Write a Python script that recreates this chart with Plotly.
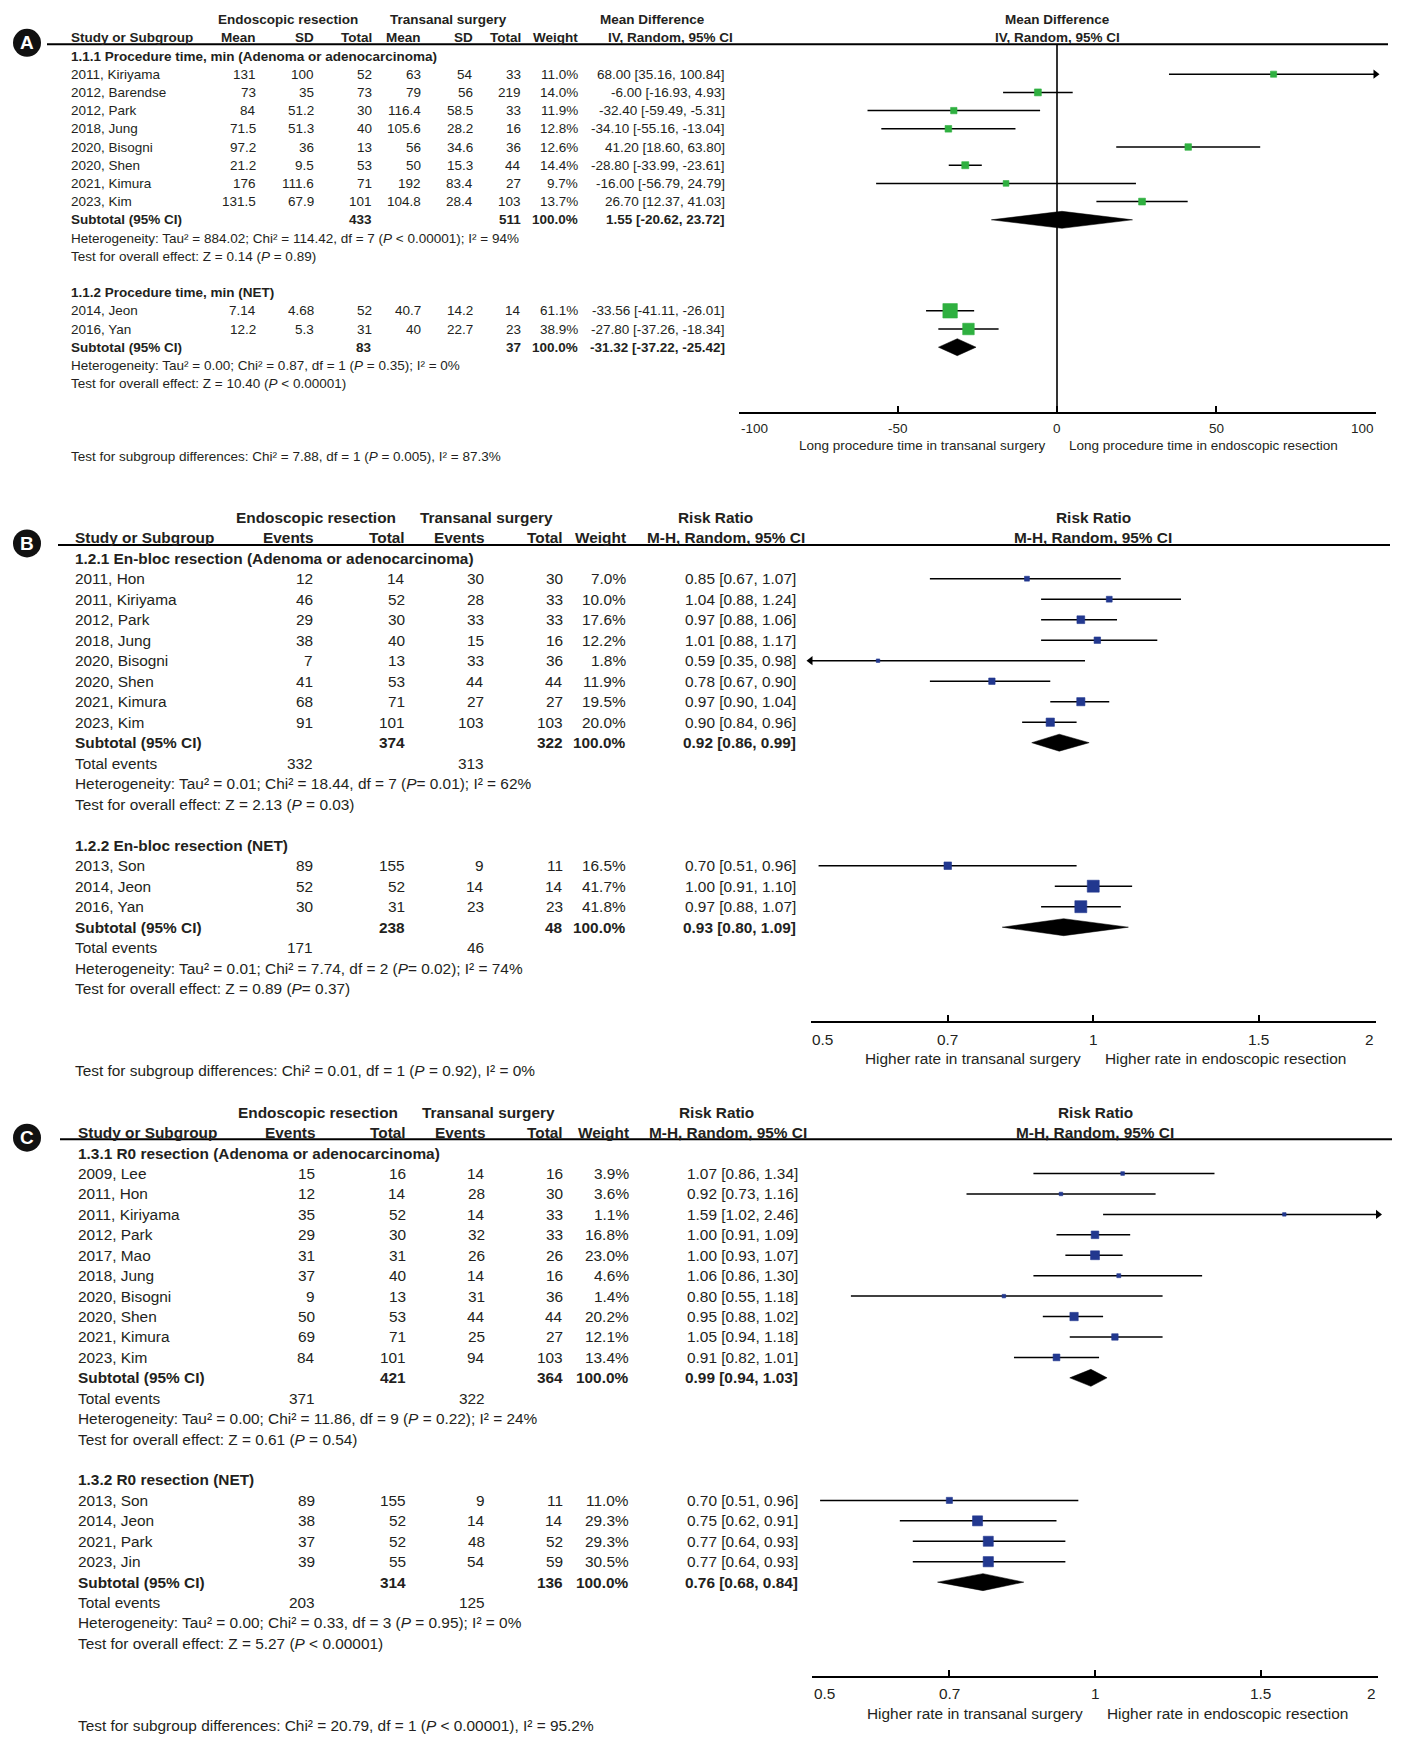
import math
import plotly.graph_objects as go

W, H = 1407, 1742
FONT = "Liberation Sans, Arial, Helvetica, sans-serif"
INK = "#231f20"
GREEN = "#2fb040"
BLUE = "#22388f"

# ======================= DATA =======================
# ---- Panel A : Procedure time (Mean Difference, IV, Random) ----
A1_TITLE = "1.1.1 Procedure time, min (Adenoma or adenocarcinoma)"
A1_STUDY = ["2011, Kiriyama", "2012, Barendse", "2012, Park", "2018, Jung",
            "2020, Bisogni", "2020, Shen", "2021, Kimura", "2023, Kim"]
A1_ER_MEAN = [131, 73, 84, 71.5, 97.2, 21.2, 176, 131.5]
A1_ER_SD = [100, 35, 51.2, 51.3, 36, 9.5, 111.6, 67.9]
A1_ER_N = [52, 73, 30, 40, 13, 53, 71, 101]
A1_TS_MEAN = [63, 79, 116.4, 105.6, 56, 50, 192, 104.8]
A1_TS_SD = [54, 56, 58.5, 28.2, 34.6, 15.3, 83.4, 28.4]
A1_TS_N = [33, 219, 33, 16, 36, 44, 27, 103]
A1_WEIGHT = [11.0, 14.0, 11.9, 12.8, 12.6, 14.4, 9.7, 13.7]
A1_EST = [68.00, -6.00, -32.40, -34.10, 41.20, -28.80, -16.00, 26.70]
A1_LO = [35.16, -16.93, -59.49, -55.16, 18.60, -33.99, -56.79, 12.37]
A1_HI = [100.84, 4.93, -5.31, -13.04, 63.80, -23.61, 24.79, 41.03]
A1_SUB_N = [433, 511]
A1_SUB = [1.55, -20.62, 23.72]
A1_HET = "Heterogeneity: Tau² = 884.02; Chi² = 114.42, df = 7 (<i>P</i> &lt; 0.00001); I² = 94%"
A1_Z = "Test for overall effect: Z = 0.14 (<i>P</i> = 0.89)"

A2_TITLE = "1.1.2 Procedure time, min (NET)"
A2_STUDY = ["2014, Jeon", "2016, Yan"]
A2_ER_MEAN = [7.14, 12.2]
A2_ER_SD = [4.68, 5.3]
A2_ER_N = [52, 31]
A2_TS_MEAN = [40.7, 40]
A2_TS_SD = [14.2, 22.7]
A2_TS_N = [14, 23]
A2_WEIGHT = [61.1, 38.9]
A2_EST = [-33.56, -27.80]
A2_LO = [-41.11, -37.26]
A2_HI = [-26.01, -18.34]
A2_SUB_N = [83, 37]
A2_SUB = [-31.32, -37.22, -25.42]
A2_HET = "Heterogeneity: Tau² = 0.00; Chi² = 0.87, df = 1 (<i>P</i> = 0.35); I² = 0%"
A2_Z = "Test for overall effect: Z = 10.40 (<i>P</i> &lt; 0.00001)"

A_SUBTEST = "Test for subgroup differences: Chi² = 7.88, df = 1 (<i>P</i> = 0.005), I² = 87.3%"
A_TICKS = [-100, -50, 0, 50, 100]
A_LEFT_LABEL = "Long procedure time in transanal surgery"
A_RIGHT_LABEL = "Long procedure time in endoscopic resection"

# ---- Panel B : En-bloc resection (Risk Ratio, M-H, Random) ----
B1_TITLE = "1.2.1 En-bloc resection (Adenoma or adenocarcinoma)"
B1_STUDY = ["2011, Hon", "2011, Kiriyama", "2012, Park", "2018, Jung",
            "2020, Bisogni", "2020, Shen", "2021, Kimura", "2023, Kim"]
B1_ER_EV = [12, 46, 29, 38, 7, 41, 68, 91]
B1_ER_N = [14, 52, 30, 40, 13, 53, 71, 101]
B1_TS_EV = [30, 28, 33, 15, 33, 44, 27, 103]
B1_TS_N = [30, 33, 33, 16, 36, 44, 27, 103]
B1_WEIGHT = [7.0, 10.0, 17.6, 12.2, 1.8, 11.9, 19.5, 20.0]
B1_EST = [0.85, 1.04, 0.97, 1.01, 0.59, 0.78, 0.97, 0.90]
B1_LO = [0.67, 0.88, 0.88, 0.88, 0.35, 0.67, 0.90, 0.84]
B1_HI = [1.07, 1.24, 1.06, 1.17, 0.98, 0.90, 1.04, 0.96]
B1_SUB_N = [374, 322]
B1_SUB = [0.92, 0.86, 0.99]
B1_EVENTS = [332, 313]
B1_HET = "Heterogeneity: Tau² = 0.01; Chi² = 18.44, df = 7 (<i>P</i>= 0.01); I² = 62%"
B1_Z = "Test for overall effect: Z = 2.13 (<i>P</i> = 0.03)"

B2_TITLE = "1.2.2 En-bloc resection (NET)"
B2_STUDY = ["2013, Son", "2014, Jeon", "2016, Yan"]
B2_ER_EV = [89, 52, 30]
B2_ER_N = [155, 52, 31]
B2_TS_EV = [9, 14, 23]
B2_TS_N = [11, 14, 23]
B2_WEIGHT = [16.5, 41.7, 41.8]
B2_EST = [0.70, 1.00, 0.97]
B2_LO = [0.51, 0.91, 0.88]
B2_HI = [0.96, 1.10, 1.07]
B2_SUB_N = [238, 48]
B2_SUB = [0.93, 0.80, 1.09]
B2_EVENTS = [171, 46]
B2_HET = "Heterogeneity: Tau² = 0.01; Chi² = 7.74, df = 2 (<i>P</i>= 0.02); I² = 74%"
B2_Z = "Test for overall effect: Z = 0.89 (<i>P</i>= 0.37)"

B_SUBTEST = "Test for subgroup differences: Chi² = 0.01, df = 1 (<i>P</i> = 0.92), I² = 0%"
RR_TICKS = [0.5, 0.7, 1, 1.5, 2]
RR_LEFT_LABEL = "Higher rate in transanal surgery"
RR_RIGHT_LABEL = "Higher rate in endoscopic resection"

# ---- Panel C : R0 resection (Risk Ratio, M-H, Random) ----
C1_TITLE = "1.3.1 R0 resection (Adenoma or adenocarcinoma)"
C1_STUDY = ["2009, Lee", "2011, Hon", "2011, Kiriyama", "2012, Park", "2017, Mao",
            "2018, Jung", "2020, Bisogni", "2020, Shen", "2021, Kimura", "2023, Kim"]
C1_ER_EV = [15, 12, 35, 29, 31, 37, 9, 50, 69, 84]
C1_ER_N = [16, 14, 52, 30, 31, 40, 13, 53, 71, 101]
C1_TS_EV = [14, 28, 14, 32, 26, 14, 31, 44, 25, 94]
C1_TS_N = [16, 30, 33, 33, 26, 16, 36, 44, 27, 103]
C1_WEIGHT = [3.9, 3.6, 1.1, 16.8, 23.0, 4.6, 1.4, 20.2, 12.1, 13.4]
C1_EST = [1.07, 0.92, 1.59, 1.00, 1.00, 1.06, 0.80, 0.95, 1.05, 0.91]
C1_LO = [0.86, 0.73, 1.02, 0.91, 0.93, 0.86, 0.55, 0.88, 0.94, 0.82]
C1_HI = [1.34, 1.16, 2.46, 1.09, 1.07, 1.30, 1.18, 1.02, 1.18, 1.01]
C1_SUB_N = [421, 364]
C1_SUB = [0.99, 0.94, 1.03]
C1_EVENTS = [371, 322]
C1_HET = "Heterogeneity: Tau² = 0.00; Chi² = 11.86, df = 9 (<i>P</i> = 0.22); I² = 24%"
C1_Z = "Test for overall effect: Z = 0.61 (<i>P</i> = 0.54)"

C2_TITLE = "1.3.2 R0 resection (NET)"
C2_STUDY = ["2013, Son", "2014, Jeon", "2021, Park", "2023, Jin"]
C2_ER_EV = [89, 38, 37, 39]
C2_ER_N = [155, 52, 52, 55]
C2_TS_EV = [9, 14, 48, 54]
C2_TS_N = [11, 14, 52, 59]
C2_WEIGHT = [11.0, 29.3, 29.3, 30.5]
C2_EST = [0.70, 0.75, 0.77, 0.77]
C2_LO = [0.51, 0.62, 0.64, 0.64]
C2_HI = [0.96, 0.91, 0.93, 0.93]
C2_SUB_N = [314, 136]
C2_SUB = [0.76, 0.68, 0.84]
C2_EVENTS = [203, 125]
C2_HET = "Heterogeneity: Tau² = 0.00; Chi² = 0.33, df = 3 (<i>P</i> = 0.95); I² = 0%"
C2_Z = "Test for overall effect: Z = 5.27 (<i>P</i> &lt; 0.00001)"

C_SUBTEST = "Test for subgroup differences: Chi² = 20.79, df = 1 (<i>P</i> &lt; 0.00001), I² = 95.2%"


def grp(title, study, cols, weight, est, lo, hi, sub_n, sub, het, z, events=None):
    return dict(title=title, study=study, cols=cols, weight=weight, est=est, lo=lo,
                hi=hi, sub_n=sub_n, sub=sub, het=het, z=z, events=events)


PANELS = [
    dict(badge="A",
         groups=[grp(A1_TITLE, A1_STUDY, [A1_ER_MEAN, A1_ER_SD, A1_ER_N, A1_TS_MEAN, A1_TS_SD, A1_TS_N],
                     A1_WEIGHT, A1_EST, A1_LO, A1_HI, A1_SUB_N, A1_SUB, A1_HET, A1_Z),
                 grp(A2_TITLE, A2_STUDY, [A2_ER_MEAN, A2_ER_SD, A2_ER_N, A2_TS_MEAN, A2_TS_SD, A2_TS_N],
                     A2_WEIGHT, A2_EST, A2_LO, A2_HI, A2_SUB_N, A2_SUB, A2_HET, A2_Z)],
         col_heads=["Mean", "SD", "Total", "Mean", "SD", "Total"], total_cols=[2, 5], event_cols=[],
         eff_head="Mean Difference", eff_sub="IV, Random, 95% CI",
         ticks=A_TICKS, log=False, null=0, color=GREEN,
         left_label=A_LEFT_LABEL, right_label=A_RIGHT_LABEL, subtest=A_SUBTEST,
         # layout (pixels)
         row0=56, sp=18.2, fs=13.5, study_x=69,
         col_x=[258, 316, 374, 423, 475, 523], weight_x=580, ci_x=727,
         grp_x=[288, 448], eff_head_x=652, eff_sub_x=670,
         line=(47, 1388), ax=(738.5, 1375.5), hline_row=-0.64),
    dict(badge="B",
         groups=[grp(B1_TITLE, B1_STUDY, [B1_ER_EV, B1_ER_N, B1_TS_EV, B1_TS_N],
                     B1_WEIGHT, B1_EST, B1_LO, B1_HI, B1_SUB_N, B1_SUB, B1_HET, B1_Z, B1_EVENTS),
                 grp(B2_TITLE, B2_STUDY, [B2_ER_EV, B2_ER_N, B2_TS_EV, B2_TS_N],
                     B2_WEIGHT, B2_EST, B2_LO, B2_HI, B2_SUB_N, B2_SUB, B2_HET, B2_Z, B2_EVENTS)],
         col_heads=["Events", "Total", "Events", "Total"], total_cols=[1, 3], event_cols=[0, 2],
         eff_head="Risk Ratio", eff_sub="M-H, Random, 95% CI",
         ticks=RR_TICKS, log=True, null=1, color=BLUE,
         left_label=RR_LEFT_LABEL, right_label=RR_RIGHT_LABEL, subtest=B_SUBTEST,
         row0=558.2, sp=20.5, fs=15.4, study_x=73,
         col_x=[315, 407, 486, 565], weight_x=628, ci_x=798,
         grp_x=[316, 486], eff_head_x=715, eff_sub_x=726,
         line=(58, 1390), ax=(810.5, 1376), hline_row=-0.65),
    dict(badge="C",
         groups=[grp(C1_TITLE, C1_STUDY, [C1_ER_EV, C1_ER_N, C1_TS_EV, C1_TS_N],
                     C1_WEIGHT, C1_EST, C1_LO, C1_HI, C1_SUB_N, C1_SUB, C1_HET, C1_Z, C1_EVENTS),
                 grp(C2_TITLE, C2_STUDY, [C2_ER_EV, C2_ER_N, C2_TS_EV, C2_TS_N],
                     C2_WEIGHT, C2_EST, C2_LO, C2_HI, C2_SUB_N, C2_SUB, C2_HET, C2_Z, C2_EVENTS)],
         col_heads=["Events", "Total", "Events", "Total"], total_cols=[1, 3], event_cols=[0, 2],
         eff_head="Risk Ratio", eff_sub="M-H, Random, 95% CI",
         ticks=RR_TICKS, log=True, null=1, color=BLUE,
         left_label=RR_LEFT_LABEL, right_label=RR_RIGHT_LABEL, subtest=C_SUBTEST,
         row0=1153.1, sp=20.43, fs=15.4, study_x=76,
         col_x=[317, 408, 487, 565], weight_x=631, ci_x=800,
         grp_x=[318, 488], eff_head_x=716, eff_sub_x=728,
         line=(60, 1392), ax=(812, 1378), hline_row=-0.68),
]

SQUARE_K = 1.85      # square side in px per sqrt(weight%)
DIAMOND_HALF = 8.5   # diamond half-height in px
BADGE_R = 14

fig = go.Figure()
lay = {}


def fmt(v):
    return f"{v:g}"


for i, P in enumerate(PANELS, start=1):
    sfx = "" if i == 1 else str(i)
    xa, ya = "x" + sfx, "y" + sfx
    row0, sp, fs = P["row0"], P["sp"], P["fs"]
    is_log = P["log"]
    xmin, xmax = P["ticks"][0], P["ticks"][-1]

    def ac(v, is_log=is_log):
        return math.log10(v) if is_log else v

    # ---- row layout ----
    k = 0
    rows = []
    for g in P["groups"]:
        n = len(g["study"])
        r = dict(title=k, studies=list(range(k + 1, k + 1 + n)), sub=k + n + 1)
        nxt = k + n + 2
        if g["events"] is not None:
            r["events"] = nxt
            nxt += 1
        r["het"], r["z"] = nxt, nxt + 1
        rows.append(r)
        k = nxt + 3
    last = rows[-1]["z"]
    axis_row = last + 1.62
    axis_px = row0 + axis_row * sp

    # ---- axes ----
    lay["yaxis" + sfx] = dict(domain=[0, 1], range=[(H - row0) / sp, -row0 / sp],
                              visible=False, anchor="free", position=0, fixedrange=True)
    lay["xaxis" + sfx] = dict(domain=[P["ax"][0] / W, P["ax"][1] / W],
                              type="log" if is_log else "linear",
                              range=[ac(xmin), ac(xmax)],
                              anchor="free", position=1 - axis_px / H, side="bottom",
                              showline=True, linewidth=2, linecolor="black",
                              ticks="inside", ticklen=6, tickwidth=1.5, tickcolor="black",
                              tickvals=P["ticks"], showticklabels=False,
                              showgrid=False, zeroline=False, fixedrange=True)

    def T(x, y, s, anchor="left", bold=False, size=None, xref="paper", xshift=0, color=INK):
        fig.add_annotation(x=x / W if xref == "paper" else x, xref=xref, y=y, yref=ya,
                           text=f"<b>{s}</b>" if bold else s, showarrow=False,
                           xanchor=anchor, yanchor="middle", xshift=xshift,
                           font=dict(family=FONT, size=size or fs, color=color))

    # ---- header ----
    T(P["grp_x"][0], -2, "Endoscopic resection", "center", True)
    T(P["grp_x"][1], -2, "Transanal surgery", "center", True)
    T(P["eff_head_x"], -2, P["eff_head"], "center", True)
    T(P["eff_sub_x"], -1, P["eff_sub"], "center", True)
    T(P["study_x"], -1, "Study or Subgroup", "left", True)
    for cx, ch in zip(P["col_x"], P["col_heads"]):
        T(cx, -1, ch, "right", True)
    T(P["weight_x"], -1, "Weight", "right", True)
    nullc = ac(P["null"])
    T(nullc, -2, P["eff_head"], "center", True, xref=xa)
    T(nullc, -1, P["eff_sub"], "center", True, xref=xa)

    fig.add_shape(type="line", xref="paper", yref=ya, x0=P["line"][0] / W, x1=P["line"][1] / W,
                  y0=P["hline_row"], y1=P["hline_row"], line=dict(color="black", width=2))
    fig.add_shape(type="line", xref=xa, yref=ya, x0=nullc, x1=nullc,
                  y0=P["hline_row"], y1=axis_row, line=dict(color="black", width=1.6))

    # badge
    cy = row0 + P["hline_row"] * sp - 1.5
    cx = 27
    fig.add_shape(type="circle", xref="paper", yref="paper",
                  x0=(cx - BADGE_R) / W, x1=(cx + BADGE_R) / W,
                  y0=1 - (cy + BADGE_R) / H, y1=1 - (cy - BADGE_R) / H,
                  fillcolor="#111111", line=dict(width=0))
    fig.add_annotation(x=cx / W, y=1 - cy / H, xref="paper", yref="paper", text=f"<b>{P['badge']}</b>",
                       showarrow=False, xanchor="center", yanchor="middle",
                       font=dict(family=FONT, size=19, color="white"))

    # ---- groups ----
    lx, ly = [], []
    arx, ary, ars = [], [], []
    sqx, sqy, sqs = [], [], []
    for g, r in zip(P["groups"], rows):
        T(P["study_x"], r["title"], g["title"], "left", True)
        for j, yy in enumerate(r["studies"]):
            T(P["study_x"], yy, g["study"][j])
            for cxp, col in zip(P["col_x"], g["cols"]):
                T(cxp, yy, fmt(col[j]), "right")
            T(P["weight_x"], yy, f"{g['weight'][j]:.1f}%", "right")
            T(P["ci_x"], yy, f"{g['est'][j]:.2f} [{g['lo'][j]:.2f}, {g['hi'][j]:.2f}]", "right")
            lo, hi = g["lo"][j], g["hi"][j]
            lx += [max(lo, xmin), min(hi, xmax), None]
            ly += [yy, yy, None]
            if lo < xmin:
                arx.append(xmin); ary.append(yy); ars.append("triangle-left")
            if hi > xmax:
                arx.append(xmax); ary.append(yy); ars.append("triangle-right")
            sqx.append(g["est"][j]); sqy.append(yy)
            sqs.append(max(3.5, SQUARE_K * math.sqrt(g["weight"][j])))
        # subtotal
        T(P["study_x"], r["sub"], "Subtotal (95% CI)", "left", True)
        for ci_idx, nval in zip(P["total_cols"], g["sub_n"]):
            T(P["col_x"][ci_idx], r["sub"], str(nval), "right", True)
        T(P["weight_x"], r["sub"], "100.0%", "right", True)
        se, sl, sh = g["sub"]
        T(P["ci_x"], r["sub"], f"{se:.2f} [{sl:.2f}, {sh:.2f}]", "right", True)
        h = DIAMOND_HALF / sp
        yd = r["sub"]
        fig.add_trace(go.Scatter(x=[sl, se, sh, se, sl], y=[yd, yd - h, yd, yd + h, yd],
                                 mode="lines", fill="toself", fillcolor="black",
                                 line=dict(color="black", width=0.5),
                                 xaxis=xa, yaxis=ya, hoverinfo="skip", showlegend=False))
        if g["events"] is not None:
            T(P["study_x"], r["events"], "Total events")
            for ci_idx, ev in zip(P["event_cols"], g["events"]):
                T(P["col_x"][ci_idx], r["events"], str(ev), "right")
        T(P["study_x"], r["het"], g["het"])
        T(P["study_x"], r["z"], g["z"])

    fig.add_trace(go.Scatter(x=lx, y=ly, mode="lines", line=dict(color="black", width=1.5),
                             xaxis=xa, yaxis=ya, hoverinfo="skip", showlegend=False,
                             cliponaxis=False))
    if arx:
        fig.add_trace(go.Scatter(x=arx, y=ary, mode="markers",
                                 marker=dict(symbol=ars, size=8, color="black"),
                                 xaxis=xa, yaxis=ya, hoverinfo="skip", showlegend=False,
                                 cliponaxis=False))
    fig.add_trace(go.Scatter(x=sqx, y=sqy, mode="markers",
                             marker=dict(symbol="square", size=sqs, color=P["color"],
                                         opacity=1, line=dict(width=0.6, color=P["color"])),
                             xaxis=xa, yaxis=ya, hoverinfo="skip", showlegend=False))

    # ---- axis labels ----
    lab_row = axis_row + 0.85
    for t_i, tv in enumerate(P["ticks"]):
        anchor = "left" if t_i == 0 else ("right" if t_i == len(P["ticks"]) - 1 else "center")
        T(ac(tv), lab_row, fmt(tv), anchor, xref=xa)
    ttl_row = axis_row + 1.8
    T(nullc, ttl_row, P["left_label"], "right", xref=xa, xshift=-10)
    T(nullc, ttl_row, P["right_label"], "left", xref=xa, xshift=10)
    T(P["study_x"], last + 4, P["subtest"])

fig.update_layout(width=W, height=H, margin=dict(l=0, r=0, t=0, b=0),
                  paper_bgcolor="white", plot_bgcolor="rgba(0,0,0,0)",
                  showlegend=False, hovermode=False, **lay)
fig.write_html("out.html", config={"displayModeBar": False},
               post_script="document.body.style.margin='0px';")
